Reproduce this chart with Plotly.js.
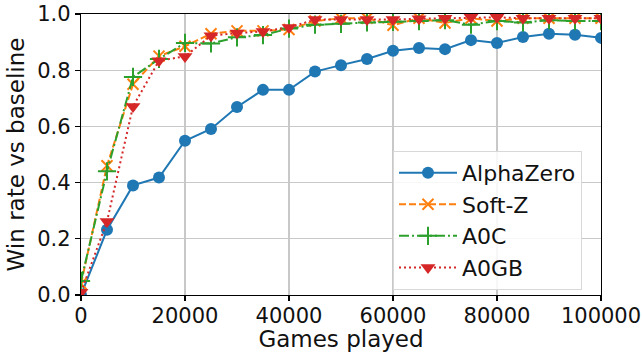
<!DOCTYPE html>
<html>
<head>
<meta charset="utf-8">
<script src="https://cdn.plot.ly/plotly-3.0.1.min.js"></script>
<style>html,body{margin:0;padding:0;background:#fff;}#chart{width:642px;height:352px;}</style>
</head>
<body>
<div id="chart"></div>
<script>
const gamesPlayed = [0, 5000, 10000, 15000, 20000, 25000, 30000, 35000, 40000, 45000, 50000,
  55000, 60000, 65000, 70000, 75000, 80000, 85000, 90000, 95000, 100000];
const alphaZero = [0.0, 0.232, 0.39, 0.418, 0.549, 0.591, 0.669, 0.73, 0.73, 0.795, 0.818,
  0.84, 0.869, 0.879, 0.875, 0.907, 0.897, 0.918, 0.93, 0.926, 0.915];
const softZ = [0.04, 0.46, 0.75, 0.85, 0.885, 0.93, 0.94, 0.94, 0.945, 0.975, 0.985,
  0.985, 0.96, 0.985, 0.968, 0.985, 0.975, 0.985, 0.985, 0.985, 0.985];
const a0c = [0.05, 0.44, 0.776, 0.84, 0.897, 0.895, 0.917, 0.925, 0.948, 0.962, 0.965,
  0.97, 0.972, 0.975, 0.978, 0.962, 0.975, 0.97, 0.978, 0.975, 0.975];
const a0gb = [0.01, 0.262, 0.671, 0.834, 0.849, 0.923, 0.932, 0.938, 0.952, 0.98, 0.98,
  0.98, 0.98, 0.983, 0.985, 0.988, 0.988, 0.985, 0.985, 0.985, 0.985];
const seriesNames = ["AlphaZero", "Soft-Z", "A0C", "A0GB"];
const xTicks = [0, 20000, 40000, 60000, 80000, 100000];
const yTicks = [0.0, 0.2, 0.4, 0.6, 0.8, 1.0];

const traces = [
  {x: gamesPlayed, y: alphaZero, name: seriesNames[0], legendgroup: "g1", mode: "lines+markers",
   line: {color: "#1f77b4", width: 2},
   marker: {symbol: "circle", size: 12, color: "#1f77b4"}},
  {x: gamesPlayed, y: softZ, name: seriesNames[1], legendgroup: "g2", mode: "lines+markers",
   line: {color: "#ff7f0e", width: 2, dash: "7px,3px"},
   marker: {symbol: "x-thin", size: 11, color: "#ff7f0e", line: {color: "#ff7f0e", width: 2}}},
  {x: gamesPlayed, y: a0c, name: seriesNames[2], legendgroup: "g3", mode: "lines+markers",
   line: {color: "#2ca02c", width: 2, dash: "10px,3px,2px,3px"},
   marker: {symbol: "cross-thin", size: 13, color: "#2ca02c", line: {color: "#2ca02c", width: 2}}},
  {x: gamesPlayed, y: a0gb, name: seriesNames[3], legendgroup: "g4", mode: "lines+markers",
   line: {color: "#d62728", width: 2, dash: "2px,3px"},
   marker: {symbol: "triangle-down", size: 13, color: "#d62728"}}
];

const axisCommon = {
  showline: true, linecolor: "#000", linewidth: 1.2, mirror: true,
  ticks: "outside", ticklen: 5, tickwidth: 1.2, tickcolor: "#000",
  showgrid: true, gridcolor: "#c8c8c8", gridwidth: 1.2,
  zeroline: false, tickfont: {size: 21, color: "#111"}
};

const layout = {
  width: 642, height: 352,
  margin: {l: 81, r: 41, t: 14, b: 57},
  paper_bgcolor: "#fff", plot_bgcolor: "#fff",
  font: {family: "DejaVu Sans", size: 20, color: "#111"},
  showlegend: true,
  legend: {x: 0.6, y: 0.513, xanchor: "left", yanchor: "top",
    bgcolor: "rgba(255,255,255,0.85)", bordercolor: "#d8d8d8", borderwidth: 1,
    font: {size: 22}, tracegroupgap: 0, itemwidth: 58},
  xaxis: Object.assign({}, axisCommon, {
    range: [0, 100000], tickvals: xTicks, ticktext: xTicks.map(v => String(v)),
    ticklabelstandoff: -3,
    title: {text: "Games played", font: {size: 23}, standoff: 2}
  }),
  yaxis: Object.assign({}, axisCommon, {
    range: [0, 1], tickvals: yTicks, ticktext: yTicks.map(v => v.toFixed(1)),
    title: {text: "Win rate vs baseline", font: {size: 23}, standoff: 6}
  })
};

Plotly.newPlot("chart", traces, layout, {displayModeBar: false, staticPlot: true});
</script>
</body>
</html>
